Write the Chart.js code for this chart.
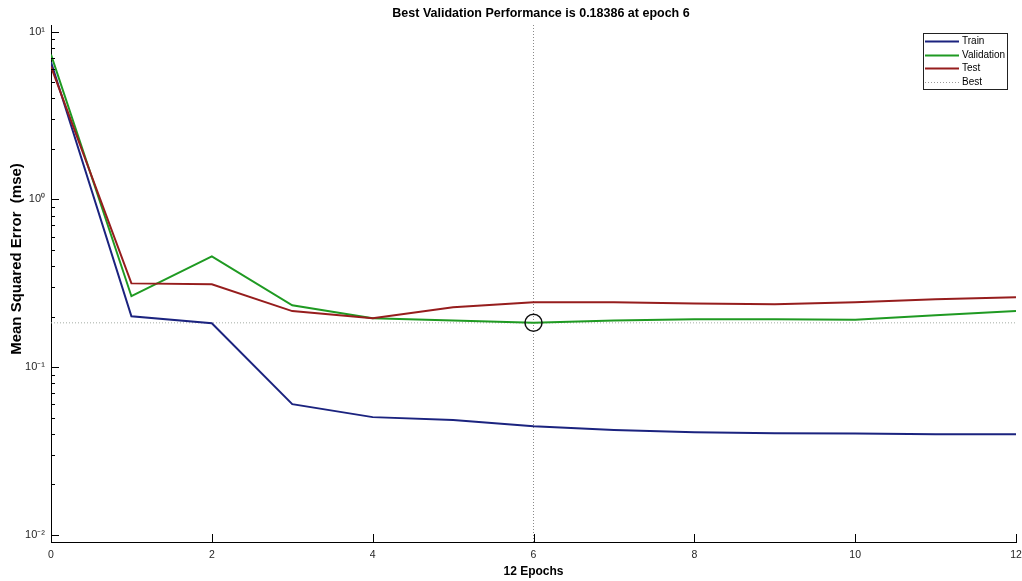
<!DOCTYPE html>
<html lang="en">
<head>
  <meta charset="UTF-8">
  <title>Best Validation Performance</title>
  <script src="https://cdn.jsdelivr.net/npm/chart.js"></script>
  <style>
    html, body { margin: 0; padding: 0; background: #fff; }
    #wrap { width: 1022px; height: 581px; }
  </style>
</head>
<body>
  <div id="wrap"><canvas id="perfChart"></canvas></div>

  <script>
    // values (log scale)
    const epochs = [0, 1, 2, 3, 4, 5, 6, 7, 8, 9, 10, 11, 12];
    const trainMse = [6.6, 0.201, 0.183, 0.0602, 0.0504, 0.0484, 0.0445, 0.0422, 0.0410, 0.0404, 0.0402, 0.0399, 0.0399];
    const validationMse = [7.3, 0.265, 0.458, 0.234, 0.196, 0.190, 0.18386, 0.190, 0.193, 0.193, 0.192, 0.204, 0.216];
    const testMse = [6.2, 0.316, 0.312, 0.216, 0.196, 0.228, 0.244, 0.244, 0.240, 0.237, 0.244, 0.254, 0.261];

    const bestEpoch = 6;
    const bestMse = 0.18386;

    const xTicks = [0, 2, 4, 6, 8, 10, 12];
    const yTicks = [0.01, 0.1, 1, 10];
    const yTickLabels = ['10⁻²', '10⁻¹', '10⁰', '10¹'];
    const yMin = 0.00908;
    const yMax = 10.96;

    const seriesNames = ['Train', 'Validation', 'Test', 'Best'];
    const seriesColors = ['#1b237f', '#1f9a22', '#961d1d', '#9a9a9a'];

    const toPoints = (vals) => vals.map((v, i) => ({ x: epochs[i], y: v }));

    // inward ticks, title, rotated y label and the boxed legend, matlab style
    const matlabAxes = {
      id: 'matlabAxes',
      afterLayout(chart) {
        // chart.js keeps extra room on the right for the "12" label; give it back
        const xs = chart.scales.x;
        const gap = (chart.width - 6) - chart.chartArea.right;
        if (gap > 0) {
          chart.chartArea.right += gap;
          chart.chartArea.width += gap;
          xs.right += gap;
          xs.width += gap;
          xs.configure();
        }
      },
      afterDatasetsDraw(chart) {
        const ctx = chart.ctx;
        const area = chart.chartArea;
        const xs = chart.scales.x;
        const ys = chart.scales.y;
        ctx.save();
        ctx.strokeStyle = '#000';
        ctx.lineWidth = 1;
        ctx.beginPath();
        xTicks.forEach(t => {
          const px = Math.round(xs.getPixelForValue(t)) + 0.5;
          ctx.moveTo(px, area.bottom);
          ctx.lineTo(px, area.bottom - 8);
        });
        yTicks.forEach((t, i) => {
          const py = Math.round(ys.getPixelForValue(t)) + 0.5;
          ctx.moveTo(area.left, py);
          ctx.lineTo(area.left + 8, py);
          if (i < yTicks.length - 1) {
            for (let m = 2; m <= 9; m++) {
              const my = Math.round(ys.getPixelForValue(t * m)) + 0.5;
              ctx.moveTo(area.left, my);
              ctx.lineTo(area.left + 4, my);
            }
          }
        });
        ctx.stroke();
        ctx.restore();
      },
      afterDraw(chart) {
        const ctx = chart.ctx;
        const area = chart.chartArea;
        ctx.save();
        ctx.fillStyle = '#000';
        ctx.textAlign = 'center';
        ctx.textBaseline = 'middle';

        ctx.font = 'bold 12.5px "Liberation Sans", Arial, sans-serif';
        ctx.fillText('Best Validation Performance is ' + bestMse + ' at epoch ' + bestEpoch, 541, 14);

        ctx.save();
        ctx.translate(17, 259);
        ctx.rotate(-Math.PI / 2);
        ctx.font = 'bold 15px "Liberation Sans", Arial, sans-serif';
        ctx.fillText('Mean Squared Error  (mse)', 0, 0);
        ctx.restore();

        // legend
        const bx = area.right - 93, by = area.top + 8, bw = 84, bh = 56;
        ctx.fillStyle = '#fff';
        ctx.fillRect(bx, by, bw, bh);
        ctx.strokeStyle = '#222';
        ctx.lineWidth = 1;
        ctx.strokeRect(bx + 0.5, by + 0.5, bw, bh);
        ctx.font = '10px "Liberation Sans", Arial, sans-serif';
        ctx.textAlign = 'left';
        const rows = [8, 22, 35, 49];
        seriesNames.forEach((name, i) => {
          const ry = by + rows[i] + 0.5;
          ctx.strokeStyle = seriesColors[i];
          ctx.lineWidth = i === 3 ? 1 : 2;
          ctx.setLineDash(i === 3 ? [1, 2] : []);
          ctx.beginPath();
          ctx.moveTo(bx + 2, ry);
          ctx.lineTo(bx + 36, ry);
          ctx.stroke();
          ctx.fillStyle = '#000';
          ctx.fillText(name, bx + 39, ry);
        });
        ctx.setLineDash([]);
        ctx.restore();
      }
    };

    new Chart(document.getElementById('perfChart'), {
      type: 'line',
      data: {
        datasets: [
          {
            label: 'Best point',
            data: [{ x: bestEpoch, y: bestMse }],
            showLine: false,
            pointRadius: 8.5,
            pointBorderWidth: 1.5,
            pointBorderColor: '#111',
            pointBackgroundColor: 'rgba(0,0,0,0)',
            order: 0
          },
          {
            label: seriesNames[2],
            data: toPoints(testMse),
            borderColor: seriesColors[2],
            borderWidth: 2,
            pointRadius: 0,
            tension: 0,
            order: 1
          },
          {
            label: seriesNames[1],
            data: toPoints(validationMse),
            borderColor: seriesColors[1],
            borderWidth: 2,
            pointRadius: 0,
            tension: 0,
            order: 2
          },
          {
            label: seriesNames[0],
            data: toPoints(trainMse),
            borderColor: seriesColors[0],
            borderWidth: 2,
            pointRadius: 0,
            tension: 0,
            order: 3
          },
          {
            label: 'Best horizontal',
            data: [{ x: epochs[0], y: bestMse }, { x: epochs[epochs.length - 1], y: bestMse }],
            borderColor: '#a4aca4',
            borderWidth: 1,
            borderDash: [1, 2],
            pointRadius: 0,
            order: 4
          },
          {
            label: 'Best vertical',
            data: [{ x: bestEpoch, y: yMin }, { x: bestEpoch, y: yMax }],
            borderColor: '#8a8a8a',
            borderWidth: 1,
            borderDash: [1, 2],
            pointRadius: 0,
            order: 5
          }
        ]
      },
      options: {
        responsive: true,
        maintainAspectRatio: false,
        animation: false,
        layout: { padding: { top: 25, right: 6, left: 0, bottom: 0 } },
        plugins: {
          legend: { display: false },
          tooltip: { enabled: false },
          title: { display: false }
        },
        scales: {
          x: {
            type: 'linear',
            min: 0,
            max: 12,
            afterBuildTicks: (s) => { s.ticks = xTicks.map(v => ({ value: v })); },
            afterFit: (s) => { s.height = 39; s.paddingRight = 6; s.paddingLeft = 0; },
            grid: { drawOnChartArea: false, drawTicks: false },
            border: { display: true, color: '#000', width: 1 },
            ticks: {
              padding: 7,
              color: '#262626',
              font: { family: '"Liberation Sans", Arial, sans-serif', size: 10.5 }
            },
            title: {
              display: true,
              text: '12 Epochs',
              color: '#000',
              padding: { top: 0, bottom: 2 },
              font: { family: '"Liberation Sans", Arial, sans-serif', size: 12, weight: 'bold' }
            }
          },
          y: {
            type: 'logarithmic',
            min: yMin,
            max: yMax,
            afterBuildTicks: (s) => { s.ticks = yTicks.map(v => ({ value: v })); },
            afterFit: (s) => { s.width = 51; s.paddingTop = 0; s.paddingBottom = 0; },
            grid: { drawOnChartArea: false, drawTicks: false },
            border: { display: true, color: '#000', width: 1 },
            ticks: {
              padding: 6,
              color: '#262626',
              font: { family: '"Liberation Sans", Arial, sans-serif', size: 11 },
              callback: (value, index) => yTickLabels[index]
            }
          }
        }
      },
      plugins: [matlabAxes]
    });
  </script>
</body>
</html>
